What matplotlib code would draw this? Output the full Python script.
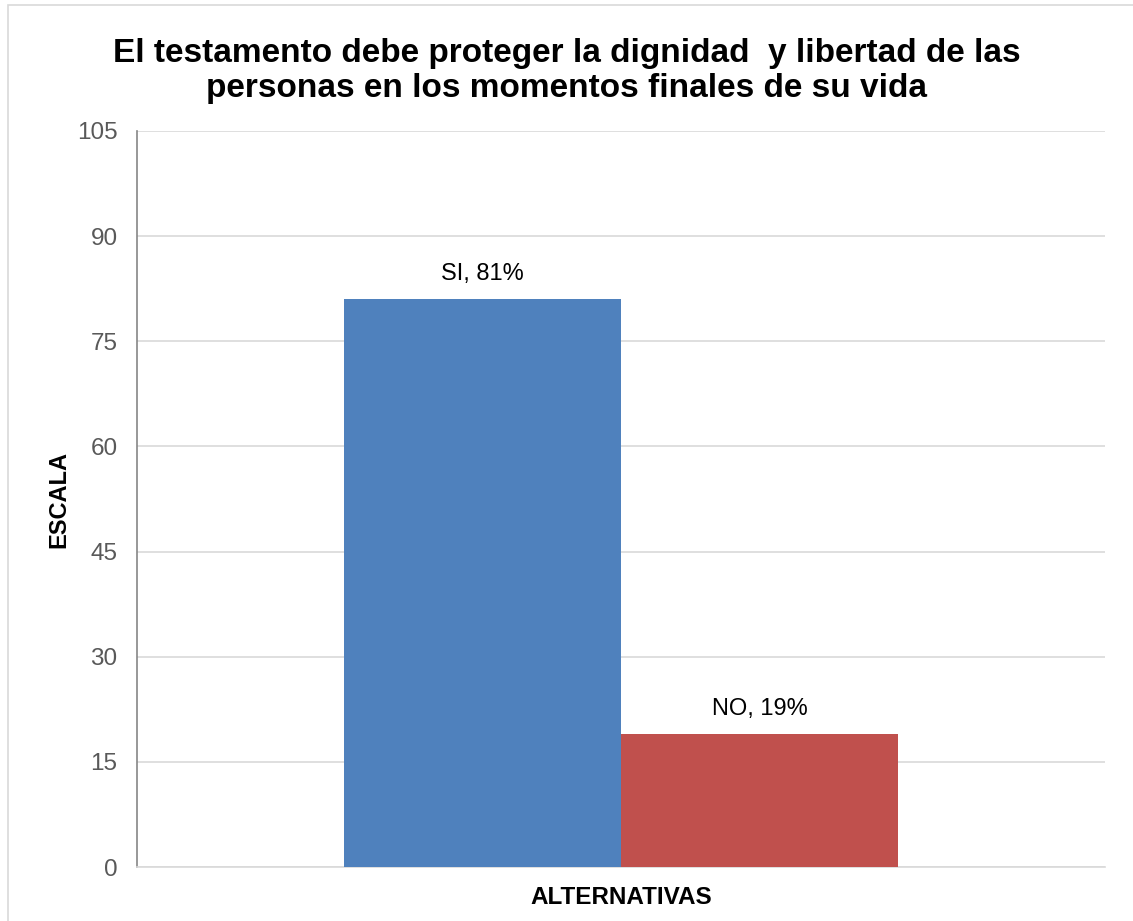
import matplotlib.pyplot as plt
from matplotlib.patches import Rectangle

plt.rcParams['font.family'] = ['Liberation Sans', 'DejaVu Sans']

categories = ["SI", "NO"]
values = [81, 19]
bar_colors = ["#4F81BD", "#C0504D"]
yticks = [0, 15, 30, 45, 60, 75, 90, 105]

fig = plt.figure(figsize=(11.33, 9.21), dpi=100)
ax = fig.add_axes([137 / 1133, 1 - 867 / 921, 968 / 1133, 736 / 921])

w = 0.286
xs = [-w / 2, w / 2]
bars = ax.bar(xs, values, width=w, color=bar_colors, zorder=3)
for x, cat, v in zip(xs, categories, values):
    ax.text(x, v + 2.0, f"{cat}, {v}%", ha='center', va='bottom',
            fontsize=17, color='#000000')

ax.set_xlim(-0.5, 0.5)
ax.set_ylim(0, 105)
ax.set_yticks(yticks)
ax.set_xticks([])
ax.tick_params(axis='y', length=0, labelsize=17.5, labelcolor='#595959', pad=14)
ax.grid(axis='y', color='#D9D9D9', linewidth=1.2, zorder=0)
for s in ['top', 'right']:
    ax.spines[s].set_visible(False)
ax.spines['left'].set_color('#868686')
ax.spines['left'].set_linewidth(1.2)
ax.spines['bottom'].set_color('#D9D9D9')
ax.spines['bottom'].set_linewidth(1.2)

ax.set_ylabel("ESCALA", fontsize=17, fontweight='bold', labelpad=5)
ax.set_xlabel("ALTERNATIVAS", fontsize=17.5, fontweight='bold', labelpad=14)

fig.text(0.5, 1 - 71 / 921,
         "El testamento debe proteger la dignidad  y libertad de las\npersonas en los momentos finales de su vida",
         ha='center', va='center', fontsize=24, fontweight='bold', linespacing=1.15)

fig.add_artist(Rectangle((8 / 1133, -0.01), 1.02, 1 - 5 / 921 + 0.01,
                         transform=fig.transFigure, fill=False,
                         edgecolor='#D9D9D9', linewidth=1.2))

fig.savefig("out.png", dpi=100)
